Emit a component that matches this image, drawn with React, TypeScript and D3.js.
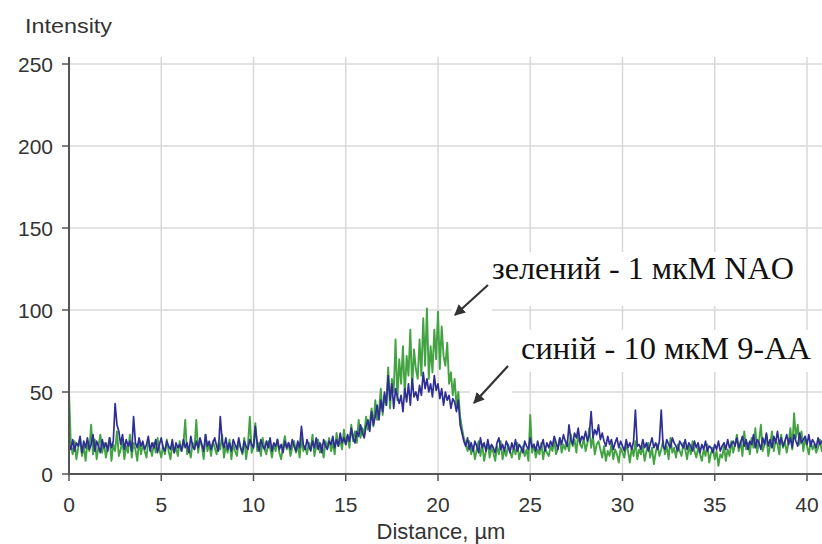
import React from "react";
import * as d3 from "d3";

const STEP = 0.1; // µm between samples
const greenValues = [
  50, 18, 12, 20, 9, 16, 22, 11, 17, 8,
  19, 14, 30, 12, 21, 9, 17, 24, 13, 19,
  10, 16, 22, 8, 18, 14, 26, 11, 15, 20,
  9, 17, 13, 24, 10, 19, 15, 8, 21, 12,
  18, 14, 10, 20, 16, 11, 19, 13, 22, 15,
  10, 17, 12, 21, 14, 9, 18, 13, 16, 11,
  20, 14, 18, 33, 12, 16, 10, 19, 15, 33,
  13, 21, 17, 9, 24, 14, 18, 11, 20, 16,
  12, 19, 15, 24, 10, 17, 13, 21, 9, 18,
  14, 11, 20, 16, 12, 22, 9, 18, 35, 13,
  17, 31, 14, 19, 11, 22, 15, 12, 20, 16,
  10, 18, 14, 21, 13, 9, 17, 23, 15, 19,
  11, 16, 20, 13, 18, 10, 22, 14, 17, 12,
  19, 15, 24, 11, 17, 21, 13, 18, 10, 20,
  16, 22, 14, 19, 12, 25, 17, 21, 15, 27,
  18, 23, 16, 30, 20, 26, 19, 33, 22, 28,
  24, 35, 27, 31, 40, 29, 45, 33, 38, 52,
  36, 48, 42, 65, 40, 58, 50, 82, 45, 70,
  55, 78, 48, 72, 60, 88, 52, 76, 64, 58,
  82, 60, 95, 66, 101, 58, 78, 62, 88, 70,
  99, 64, 90, 72, 66, 80, 55, 62, 48, 58,
  42, 50, 35, 28, 22, 18, 14, 20, 12, 17,
  9, 15, 20, 11, 18, 8, 14, 19, 10, 16,
  13, 8, 17, 12, 20, 9, 15, 11, 18, 14,
  10, 16, 12, 19, 9, 14, 17, 11, 15, 8,
  36, 13, 18, 10, 15, 12, 19, 9, 16, 13,
  11, 17, 14, 20, 12, 16, 22, 13, 18, 15,
  20, 14, 24, 17, 21, 13, 25, 18, 16, 22,
  14, 19, 28, 16, 23, 12, 18, 20, 15, 10,
  17, 8, 14, 11, 18, 9, 15, 12, 7, 16,
  13, 10, 18, 14, 7, 16, 11, 20, 9, 15,
  12, 17, 8, 14, 19, 10, 16, 6, 13, 18,
  11, 15, 20, 12, 17, 9, 22, 13, 16, 10,
  18, 14, 11, 19, 15, 9, 17, 12, 20, 14,
  10, 16, 12, 8, 15, 11, 18, 7, 13, 16,
  9, 14, 5, 12, 10, 17, 8, 15, 11, 20,
  13, 18, 24, 14, 20, 11, 26, 15, 19, 12,
  22, 16, 28, 13, 20, 30, 14, 18, 24, 11,
  17, 26, 14, 21, 18, 12, 24, 16, 20, 13,
  19, 28, 15, 37, 22, 30, 18, 26, 14, 22,
  17, 12, 20, 15, 18, 13, 16, 21, 14, 19,
];
const blueValues = [
  18, 15, 21, 14, 19, 17, 23, 13, 20, 16,
  22, 15, 18, 24, 14, 20, 17, 13, 21, 16,
  19, 14, 22, 16, 20, 43, 30, 26, 18, 24,
  15, 21, 17, 20, 14, 35, 19, 16, 22, 17,
  20, 15, 18, 23, 14, 19, 16, 21, 13, 18,
  22, 16, 14, 20, 17, 15, 21, 13, 19, 16,
  18, 14, 21, 16, 19, 13, 23, 17, 15, 20,
  16, 22, 18, 14, 24, 17, 20, 15, 19, 22,
  17, 14, 35, 20, 16, 22, 15, 19, 14, 21,
  18, 15, 22, 16, 13, 20, 17, 15, 21, 18,
  16, 29, 19, 14, 21, 17, 15, 20, 16, 22,
  14, 19, 17, 21, 15, 18, 13, 20, 16, 19,
  15, 21, 17, 14, 20, 16, 29, 18, 15, 21,
  17, 14, 20, 16, 22, 15, 19, 13, 21, 17,
  15, 20, 18, 23, 16, 21, 17, 25, 19, 22,
  18, 24, 20, 28, 22, 19, 26, 23, 30, 25,
  22, 29, 33, 26, 38, 30, 35, 42, 33, 45,
  38, 50, 42, 60, 45, 55, 40, 52, 47, 43,
  48, 38, 52, 44, 55, 42, 58, 47, 50, 45,
  54, 48, 62, 52, 58, 50, 55, 47, 60, 51,
  55, 46, 52, 42, 50, 45, 48, 40, 46, 44,
  38, 45, 30, 25, 20, 17, 22, 15, 19, 14,
  20, 17, 13, 22, 16, 19, 14, 21, 15, 18,
  16, 13, 19, 22, 15, 18, 14, 20, 17, 13,
  19, 15, 21, 14, 18, 16, 13, 20, 17, 15,
  22, 16, 18, 14, 20, 15, 17, 21, 14, 19,
  16, 20, 17, 23, 19, 15, 22, 18, 24, 20,
  17, 30, 21, 18, 25, 22, 28, 19, 23, 21,
  26, 20, 24, 38, 22, 27, 24, 30, 21, 25,
  20, 17, 23, 18, 21, 15, 19, 22, 16, 20,
  17, 14, 21, 16, 19, 15, 20, 39, 17, 18,
  15, 21, 16, 19, 14, 18, 22, 16, 19, 15,
  20, 39, 17, 15, 21, 18, 16, 22, 19, 17,
  14, 20, 18, 16, 21, 15, 19, 17, 14, 20,
  16, 19, 13, 18, 15, 20, 14, 17, 16, 13,
  18, 15, 20, 14, 17, 19, 15, 21, 16, 18,
  20, 17, 22, 16, 19, 23, 17, 21, 15, 20,
  18, 24, 16, 21, 19, 15, 22, 18, 25, 17,
  21, 16, 23, 19, 26, 18, 22, 17, 20, 24,
  18, 22, 16, 24, 20, 17, 25, 19, 21, 23,
  18, 24, 17, 21, 19, 16, 22, 18, 20, 17,
];
const xTicks = [0, 5, 10, 15, 20, 25, 30, 35, 40];
const yTicks = [0, 50, 100, 150, 200, 250];
const labelGreen = "зелений - 1 мкМ NAO";
const labelBlue = "синій - 10 мкМ 9-АА";

const W = 822, H = 544;

export default function App() {
  const x = d3.scaleLinear().domain([0, 40]).range([69, 807]);
  const y = d3.scaleLinear().domain([0, 250]).range([474, 64]);
  const line = d3
    .line<number>()
    .x((_, i) => x(i * STEP))
    .y((d) => y(d));
  const axisColor = "#555";
  const gridColor = "#d8d8d8";
  const font = "Liberation Sans, Arial, sans-serif";
  const serif = "Liberation Serif, Times New Roman, serif";
  return (
    <svg width={W} height={H} style={{ position: "absolute", left: 0, top: 0, background: "#fff" }}>
      <defs>
        <clipPath id="plot">
          <rect x={68} y={50} width={W - 68} height={430} />
        </clipPath>
        <marker id="ah" viewBox="0 0 10 10" refX={9} refY={5} markerWidth={5} markerHeight={5} orient="auto">
          <path d="M0,0 L10,5 L0,10 Z" fill="#333" />
        </marker>
      </defs>
      {/* grid */}
      {yTicks.filter((t) => t > 0).map((t) => (
        <line key={"gy" + t} x1={69} x2={W} y1={y(t)} y2={y(t)} stroke={gridColor} strokeWidth={1.5} />
      ))}
      {xTicks.filter((t) => t > 0).map((t) => (
        <line key={"gx" + t} x1={x(t)} x2={x(t)} y1={57} y2={474} stroke={gridColor} strokeWidth={1.5} />
      ))}
      {/* white label/arrow backgrounds */}
      <rect x={486} y={252} width={316} height={54} fill="#fff" />
      <rect x={516} y={330} width={302} height={42} fill="#fff" />
      <rect x={452} y={282} width={40} height={34} fill="#fff" />
      <rect x={470} y={364} width={42} height={40} fill="#fff" />
      {/* data */}
      <g clipPath="url(#plot)">
        <path d={line(greenValues) || ""} fill="none" stroke="#43a343" strokeWidth={1.9} strokeLinejoin="round" />
        <path d={line(blueValues) || ""} fill="none" stroke="#2e2e94" strokeWidth={1.7} strokeLinejoin="round" />
      </g>
      {/* axes */}
      <line x1={69} x2={69} y1={57} y2={475} stroke={axisColor} strokeWidth={2} />
      <line x1={68} x2={W} y1={474} y2={474} stroke={axisColor} strokeWidth={2} />
      {yTicks.map((t) => (
        <g key={"ty" + t}>
          <line x1={62} x2={69} y1={y(t)} y2={y(t)} stroke={axisColor} strokeWidth={1.5} />
          <text x={53} y={y(t)} dy="0.36em" textAnchor="end" fontFamily={font} fontSize={21} fill="#333">
            {t}
          </text>
        </g>
      ))}
      {xTicks.map((t) => (
        <g key={"tx" + t}>
          <line x1={x(t)} x2={x(t)} y1={474} y2={481} stroke={axisColor} strokeWidth={1.5} />
          <text x={x(t)} y={504} dy="0.36em" textAnchor="middle" fontFamily={font} fontSize={21} fill="#333">
            {t}
          </text>
        </g>
      ))}
      <text x={25} y={33} fontFamily={font} fontSize={21} fill="#333" textLength={87} lengthAdjust="spacingAndGlyphs">Intensity</text>
      <text x={441} y={539} textAnchor="middle" fontFamily={font} fontSize={22} fill="#333">Distance, µm</text>
      {/* annotations */}
      <text x={492} y={279} fontFamily={serif} fontSize={31} fill="#111" textLength={302} lengthAdjust="spacingAndGlyphs">
        {labelGreen}
      </text>
      <text x={521} y={359} fontFamily={serif} fontSize={31} fill="#111" textLength={290} lengthAdjust="spacingAndGlyphs">
        {labelBlue}
      </text>
      <line x1={488} y1={285} x2={455} y2={315} stroke="#333" strokeWidth={2.2} markerEnd="url(#ah)" />
      <line x1={508} y1={366} x2={474} y2={403} stroke="#333" strokeWidth={2.2} markerEnd="url(#ah)" />
    </svg>
  );
}
